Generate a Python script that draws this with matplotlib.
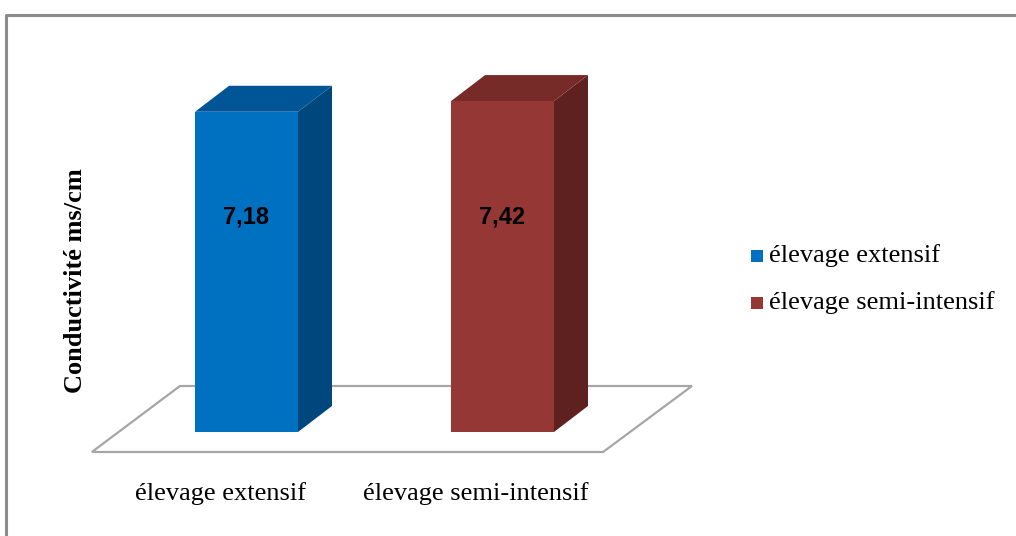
import matplotlib
matplotlib.use("Agg")
import matplotlib.pyplot as plt
from matplotlib.patches import Polygon, Rectangle
from matplotlib.lines import Line2D

categories = ["élevage extensif", "élevage semi-intensif"]
values = [7.18, 7.42]
value_labels = ["7,18", "7,42"]
ylabel = "Conductivité ms/cm"

front_colors = ["#0070C0", "#953735"]
top_colors = ["#005597", "#772B29"]
side_colors = ["#00477D", "#5E2120"]

W, H = 1016, 536
fig = plt.figure(figsize=(W / 100, H / 100), dpi=100)
fig.patch.set_facecolor("white")

# axes over the whole figure; one category = 256 px, one unit = 44.6 px
ax = fig.add_axes([0, 0, 1, 1])
ax.set_xlim(-246.5 / 256, (W - 246.5) / 256)
ax.set_ylim((432 - H) / 44.6, 432 / 44.6)
ax.axis("off")

bw = 0.402          # bar width
ddx, ddy = 0.133, 0.583   # depth offset of the 3d boxes

# floor
floor = Polygon([(-0.604, -0.448), (1.393, -0.448), (1.740, 1.031), (-0.260, 1.031)],
                closed=True, facecolor="white", edgecolor="#a6a6a6", lw=1.6, zorder=1)
ax.add_patch(floor)

for i, v in enumerate(values):
    x0, x1 = i - bw / 2, i + bw / 2
    side = Polygon([(x1, 0), (x1 + ddx, ddy), (x1 + ddx, v + ddy), (x1, v)],
                   closed=True, facecolor=side_colors[i], edgecolor="none", zorder=2)
    top = Polygon([(x0, v), (x1, v), (x1 + ddx, v + ddy), (x0 + ddx, v + ddy)],
                  closed=True, facecolor=top_colors[i], edgecolor="none", zorder=2)
    front = Rectangle((x0, 0), bw, v, facecolor=front_colors[i], edgecolor="none", zorder=3)
    ax.add_patch(side)
    ax.add_patch(top)
    ax.add_patch(front)
    ax.text(i, 4.82, value_labels[i], ha="center", va="center", fontsize=17,
            fontweight="bold", family="Liberation Sans", color="black", zorder=4)
    ax.text(i - 0.1035, -1.368, categories[i], ha="center", va="center", fontsize=19,
            family="Liberation Serif", color="black")

fig.text(76 / W, 1 - 281 / H, ylabel, rotation=90, ha="center", va="center",
         fontsize=19, fontweight="bold", family="Liberation Serif")

# legend
for i, name in enumerate(categories):
    yc = 1 - (256 + 47 * i) / H
    fig.patches.append(Rectangle((751 / W, yc - 6 / H), 12 / W, 12 / H,
                                 transform=fig.transFigure, facecolor=front_colors[i],
                                 edgecolor="none"))
    fig.text(769 / W, yc, name, ha="left", va="center", fontsize=19,
             family="Liberation Serif")

# outer border
fig.lines.append(Line2D([6 / W, 6 / W, 1.0], [0.0, 1 - 14.5 / H, 1 - 14.5 / H],
                        transform=fig.transFigure, color="#8c8c8c", lw=2.2))

fig.savefig("out.png", dpi=100)
